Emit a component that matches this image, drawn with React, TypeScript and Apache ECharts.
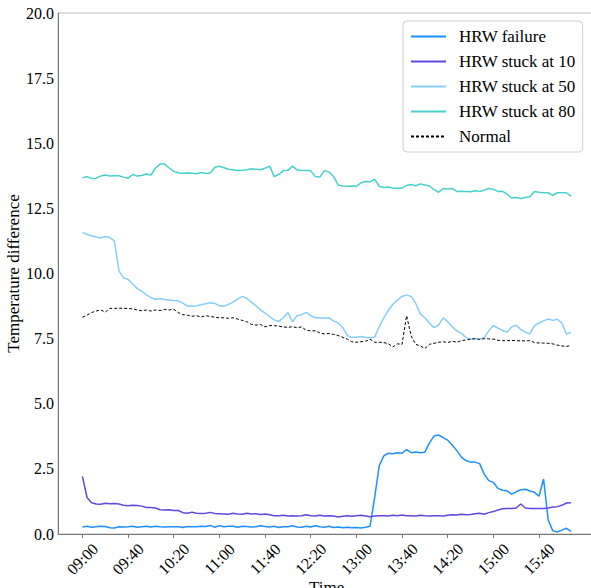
import React, { useEffect, useRef } from "react";
import * as echarts from "echarts";

// Sampling interval of the series (minutes), first sample at 09:00
const SAMPLE_STEP_MIN = 4;
const START = "09:00";

const xTickLabels = ["09:00", "09:40", "10:20", "11:00", "11:40", "12:20", "13:00", "13:40", "14:20", "15:00", "15:40"];

const seriesNames = ["HRW failure", "HRW stuck at 10", "HRW stuck at 50", "HRW stuck at 80", "Normal"];

const hrwFailure = [
  0.27, 0.3, 0.26, 0.28, 0.3, 0.29, 0.24, 0.23, 0.28, 0.27,
  0.28, 0.3, 0.26, 0.28, 0.3, 0.27, 0.3, 0.28, 0.27, 0.28,
  0.28, 0.28, 0.25, 0.29, 0.28, 0.28, 0.3, 0.29, 0.33, 0.26,
  0.32, 0.28, 0.3, 0.3, 0.26, 0.3, 0.29, 0.27, 0.28, 0.32,
  0.29, 0.27, 0.3, 0.25, 0.28, 0.28, 0.32, 0.27, 0.26, 0.3,
  0.27, 0.32, 0.28, 0.26, 0.3, 0.25, 0.27, 0.24, 0.26, 0.24,
  0.25, 0.23, 0.26, 0.3, 1.4, 2.62, 3.0, 3.1, 3.08, 3.12,
  3.1, 3.24, 3.12, 3.15, 3.12, 3.14, 3.5, 3.76, 3.8, 3.7,
  3.6, 3.42, 3.2, 2.95, 2.82, 2.76, 2.76, 2.7, 2.3, 2.05,
  1.98, 1.75, 1.68, 1.66, 1.53, 1.62, 1.7, 1.72, 1.65, 1.6,
  1.45, 2.11, 0.55, 0.13, 0.08, 0.15, 0.22, 0.1,
];

const hrwStuck10 = [
  2.21, 1.4, 1.2, 1.15, 1.14, 1.18, 1.16, 1.17, 1.15, 1.1,
  1.08, 1.1, 1.09, 1.07, 1.02, 1.02, 1.0, 0.93, 0.92, 0.93,
  0.9, 0.9, 0.82, 0.8, 0.84, 0.8, 0.79, 0.8, 0.83, 0.79,
  0.78, 0.77, 0.76, 0.8, 0.77, 0.76, 0.8, 0.77, 0.78, 0.75,
  0.77, 0.74, 0.7, 0.7, 0.72, 0.69, 0.7, 0.69, 0.7, 0.74,
  0.7, 0.69, 0.72, 0.69, 0.7, 0.69, 0.65, 0.68, 0.7, 0.68,
  0.7, 0.72, 0.69, 0.66, 0.69, 0.7, 0.7, 0.69, 0.72, 0.7,
  0.73, 0.7, 0.7, 0.69, 0.72, 0.7, 0.69, 0.7, 0.7, 0.69,
  0.72, 0.74, 0.73, 0.76, 0.74, 0.75, 0.78, 0.8, 0.76, 0.82,
  0.86, 0.92, 0.97, 0.98, 0.98, 1.0, 1.15, 1.0, 0.98, 0.98,
  0.98, 0.98, 1.0, 1.04, 1.05, 1.1, 1.19, 1.2,
];

const hrwStuck50 = [
  11.58, 11.5, 11.45, 11.4, 11.36, 11.42, 11.38, 11.25, 10.1, 9.83,
  9.78, 9.6, 9.42, 9.32, 9.18, 9.08, 9.0, 9.04, 9.0, 8.98,
  8.96, 8.95, 8.86, 8.75, 8.74, 8.76, 8.8, 8.84, 8.88, 8.85,
  8.76, 8.74, 8.82, 8.9, 9.02, 9.12, 9.05, 8.9, 8.76, 8.6,
  8.48, 8.35, 8.22, 8.16, 8.3, 8.5, 8.15, 8.38, 8.42, 8.51,
  8.38, 8.3, 8.3, 8.28, 8.3, 8.18, 8.1, 7.93, 7.62, 7.55,
  7.55, 7.58, 7.55, 7.53, 7.55, 7.95, 8.3, 8.58, 8.82, 8.98,
  9.12, 9.18, 9.12, 8.85, 8.45, 8.3, 8.1, 7.92, 8.02, 8.3,
  8.15, 7.95, 7.8, 7.7, 7.55, 7.48, 7.5, 7.48, 7.55, 7.8,
  8.0, 7.9, 7.82, 7.74, 7.95, 8.02, 7.85, 7.75, 7.68, 8.0,
  8.1, 8.18, 8.25, 8.2, 8.24, 8.1, 7.68, 7.74,
];

const hrwStuck80 = [
  13.67, 13.72, 13.65, 13.66, 13.74, 13.78, 13.74, 13.75, 13.75, 13.7,
  13.66, 13.8, 13.74, 13.76, 13.82, 13.78, 14.05, 14.2, 14.2, 14.05,
  13.92, 13.87, 13.85, 13.86, 13.85, 13.83, 13.88, 13.84, 13.86, 14.08,
  14.12, 14.06, 14.0, 13.98, 13.95, 13.96, 13.98, 14.02, 14.0, 13.98,
  14.04, 14.12, 13.72, 13.8, 13.95, 13.96, 14.12, 13.98, 13.95, 13.95,
  13.94, 13.72, 13.7, 13.95, 13.9, 13.72, 13.4, 13.36, 13.35, 13.36,
  13.35, 13.48, 13.53, 13.52, 13.62, 13.35, 13.3, 13.32, 13.28, 13.27,
  13.28, 13.38, 13.42, 13.37, 13.44, 13.4, 13.36, 13.22, 13.12, 13.26,
  13.24, 13.26, 13.15, 13.16, 13.15, 13.14, 13.18, 13.15, 13.2, 13.26,
  13.23, 13.15, 13.16, 13.05, 12.9, 12.92, 12.88, 12.92, 12.95, 13.15,
  13.12, 13.1, 13.1, 13.0, 13.1, 13.1, 13.1, 12.97,
];

const normal = [
  8.32, 8.4, 8.5, 8.56, 8.6, 8.52, 8.66, 8.66, 8.67, 8.66,
  8.66, 8.64, 8.6, 8.57, 8.6, 8.56, 8.6, 8.58, 8.62, 8.6,
  8.63, 8.5, 8.42, 8.4, 8.36, 8.38, 8.33, 8.38, 8.35, 8.32,
  8.3, 8.3, 8.28, 8.3, 8.25, 8.2, 8.15, 8.05, 8.02, 8.04,
  7.95, 8.0, 8.0, 7.98, 7.95, 7.93, 7.96, 7.92, 7.95, 7.82,
  7.8, 7.8, 7.72, 7.68, 7.7, 7.66, 7.62, 7.55, 7.48, 7.38,
  7.36, 7.38, 7.4, 7.48, 7.36, 7.36, 7.35, 7.3, 7.18, 7.3,
  7.28, 8.38, 7.6, 7.28, 7.22, 7.12, 7.28, 7.32, 7.36, 7.38,
  7.35, 7.4, 7.36, 7.42, 7.45, 7.48, 7.5, 7.47, 7.5, 7.49,
  7.48, 7.44, 7.42, 7.42, 7.43, 7.42, 7.42, 7.41, 7.42, 7.35,
  7.33, 7.33, 7.32, 7.3, 7.25, 7.22, 7.2, 7.24,
];

const colors = ["#1e90ff", "#6247e4", "#87cefa", "#48d1cc", "#000000"];

const FONT = "Times New Roman";

const toMin = (s: string) => {
  const [h, m] = s.split(":").map(Number);
  return h * 60 + m;
};
const startMin = toMin(START);
const fmtTime = (v: number) => {
  const t = Math.round(v + startMin);
  const h = Math.floor(t / 60);
  const m = t % 60;
  return `${String(h).padStart(2, "0")}:${String(m).padStart(2, "0")}`;
};

const css = `.serifchart text { font-family: "Liberation Serif", "Times New Roman", serif !important; }`;

export default function App() {
  const ref = useRef<HTMLDivElement>(null);
  useEffect(() => {
    if (!ref.current) return;
    const chart = echarts.init(ref.current, undefined, { renderer: "svg" });
    const tickMinutes = xTickLabels.map((l) => toMin(l) - startMin);
    const all = [hrwFailure, hrwStuck10, hrwStuck50, hrwStuck80, normal];
    const n = hrwFailure.length;
    const lastT = (n - 1) * SAMPLE_STEP_MIN;
    const pad = lastT * 0.05;
    const series = all.map((vals, k) => ({
      name: seriesNames[k],
      type: "line",
      showSymbol: false,
      symbol: "none",
      data: vals.map((v, i) => [i * SAMPLE_STEP_MIN, v]),
      lineStyle: {
        color: colors[k],
        width: k === 4 ? 1 : 1.5,
        type: k === 4 ? [3, 2] : "solid",
      },
      itemStyle: { color: colors[k] },
      z: 2 + k,
    }));
    chart.setOption({
      animation: false,
      grid: {
        left: 58,
        top: 13,
        right: 4.6,
        bottom: 54,
        outerBoundsMode: "none",
        containLabel: false,
        show: true,
        borderColor: "#bbbbbb",
        borderWidth: 1,
      },
      legend: {
        orient: "vertical",
        left: 403,
        top: 21,
        padding: [7, 7, 7, 7],
        itemWidth: 35,
        itemHeight: 14,
        itemGap: 8,
        borderColor: "#d0d0d0",
        borderWidth: 1,
        borderRadius: 4,
        backgroundColor: "rgba(255,255,255,0.85)",
        itemStyle: { opacity: 0 },
        textStyle: { fontFamily: FONT, fontSize: 17, color: "#000", padding: [0, 0, 0, 8], width: 120 },
        data: seriesNames,
      },
      xAxis: {
        type: "value",
        min: -pad,
        max: lastT + pad,
        name: "Time",
        nameLocation: "middle",
        nameGap: 45,
        nameMoveOverlap: false,
        nameTextStyle: { fontFamily: FONT, fontSize: 17, color: "#000" },
        axisLine: { show: true, onZero: false, lineStyle: { color: "#777", width: 1 } },
        splitLine: { show: false },
        axisTick: { show: true, customValues: tickMinutes, length: 4, lineStyle: { color: "#777" } },
        axisLabel: {
          customValues: tickMinutes,
          formatter: (v: number) => fmtTime(v),
          rotate: 45,
          align: "center",
          verticalAlign: "middle",
          margin: 25,
          fontFamily: FONT,
          fontSize: 16,
          color: "#000",
        },
      },
      yAxis: {
        type: "value",
        min: 0,
        max: 20,
        interval: 2.5,
        name: "Temperature difference",
        nameLocation: "middle",
        nameGap: 36,
        nameMoveOverlap: false,
        nameTextStyle: { fontFamily: FONT, fontSize: 17, color: "#000" },
        axisLine: { show: true, onZero: false, lineStyle: { color: "#777", width: 1 } },
        axisTick: { show: false },
        splitLine: { show: false },
        axisLabel: {
          formatter: (v: number) => v.toFixed(1),
          margin: 4,
          fontFamily: FONT,
          fontSize: 16,
          color: "#000",
        },
      },
      series,
    });
    return () => chart.dispose();
  }, []);
  return (
    <div className="serifchart" style={{ position: "fixed", left: 0, top: 0, width: 591, height: 588, overflow: "hidden", background: "#fff" }}>
      <style>{css}</style>
      <div ref={ref} style={{ width: 600, height: 588 }} />
    </div>
  );
}
